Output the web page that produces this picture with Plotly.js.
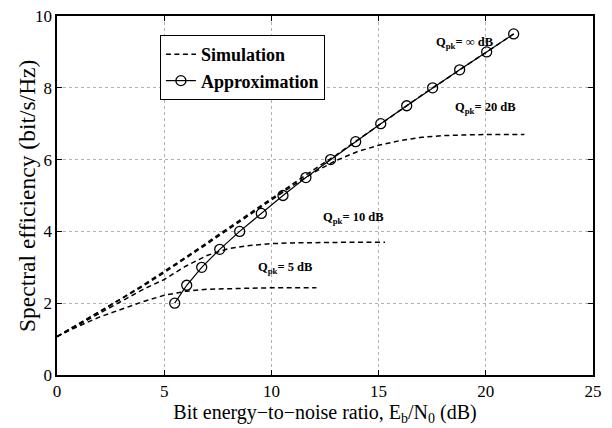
<!DOCTYPE html>
<html>
<head>
<meta charset="utf-8">
<script src="https://cdn.plot.ly/plotly-3.0.1.min.js"></script>
<style>html,body{margin:0;padding:0;background:#fff;}#chart{width:612px;height:428px;}</style>
</head>
<body>
<div id="chart"></div>
<script>
// Simulation curves (Eb/N0 in dB, spectral efficiency in bit/s/Hz)
const simInfX = [0,1,2,3,4,5,6,7,8,9,10,11,12,13,14,15,16,17,18,19,20,21,21.3];
const simInfY = [1.07,1.42,1.77,2.13,2.50,2.88,3.28,3.69,4.10,4.52,4.92,5.33,5.73,6.12,6.53,6.96,7.37,7.79,8.19,8.59,8.98,9.38,9.5];

const sim20X = [0,1,2,3,4,5,6,7,8,9,10,11,12,13,14,15,16,17,18,19,20,21,21.8];
const sim20Y = [1.07,1.42,1.76,2.11,2.47,2.85,3.24,3.65,4.06,4.47,4.88,5.28,5.65,5.97,6.22,6.40,6.53,6.62,6.67,6.69,6.70,6.70,6.70];

const sim10X = [0,1,2,3,4,5,6,7,8,9,10,11,12,13,14,15.3];
const sim10Y = [1.07,1.40,1.73,2.06,2.38,2.66,3.03,3.33,3.52,3.61,3.66,3.68,3.69,3.70,3.70,3.70];

const sim5X = [0,1,2,3,4,5,6,7,8,9,10,11,12.1];
const sim5Y = [1.07,1.36,1.62,1.84,2.04,2.22,2.33,2.39,2.41,2.42,2.43,2.43,2.43];

// Approximation
const approxX = [5.49,6.05,6.75,7.59,8.52,9.53,10.54,11.61,12.76,13.93,15.10,16.31,17.52,18.78,20.04,21.30];
const approxY = [2.0,2.5,3.0,3.5,4.0,4.5,5.0,5.5,6.0,6.5,7.0,7.5,8.0,8.5,9.0,9.5];

// Annotation labels
const labelText = ["Q<sub>pk</sub>= \u221e dB","Q<sub>pk</sub>= 20 dB","Q<sub>pk</sub>= 10 dB","Q<sub>pk</sub>= 5 dB"];
const labelX = [19.0, 20.0, 13.83, 10.62];
const labelY = [9.25, 7.44, 4.37, 2.97];

const xTicks = [0,5,10,15,20,25];
const yTicks = [0,2,4,6,8,10];

const xTitle = 'Bit energy\u2212to\u2212noise ratio, E<sub>b</sub>/N<sub>0</sub> (dB)';
const yTitle = 'Spectral efficiency (bit/s/Hz)';

const SERIF = '"Liberation Serif", "Times New Roman", serif';

const dashStyle = {color:'black', width:1.5, dash:'5px,3.5px'};
const traces = [
  {x:simInfX, y:simInfY, mode:'lines', line:dashStyle, name:'Simulation', showlegend:true},
  {x:sim20X, y:sim20Y, mode:'lines', line:dashStyle, showlegend:false},
  {x:sim10X, y:sim10Y, mode:'lines', line:dashStyle, showlegend:false},
  {x:sim5X, y:sim5Y, mode:'lines', line:dashStyle, showlegend:false},
  {x:approxX, y:approxY, mode:'lines+markers', name:'Approximation',
   line:{color:'black', width:1.2},
   marker:{symbol:'circle-open', size:10, color:'black', line:{width:1.3, color:'black'}}}
];

const annotations = labelText.map((t,i)=>({
  x:labelX[i], y:labelY[i], xref:'x', yref:'y', text:'<b>'+t+'</b>', showarrow:false,
  font:{family:SERIF, size:12.5, color:'black'}
}));
annotations.push({
  x:-0.057, y:0.5, xref:'paper', yref:'paper', xanchor:'center', yanchor:'middle',
  text:yTitle, textangle:-90, showarrow:false,
  font:{family:SERIF, size:23.5, color:'black'}
});

const axisCommon = {
  showline:true, linecolor:'black', linewidth:1.6, mirror:'ticks',
  ticks:'inside', ticklen:5, tickcolor:'black', tickwidth:1,
  showgrid:true, gridcolor:'#b0b0b0', griddash:'dot', gridwidth:1,
  zeroline:false,
  tickfont:{family:SERIF, size:17, color:'black'}
};

const layout = {
  width:612, height:428,
  margin:{l:57, r:19, t:16, b:53},
  paper_bgcolor:'white', plot_bgcolor:'white',
  font:{family:SERIF, color:'black'},
  xaxis:Object.assign({}, axisCommon, {
    range:[0,25], tickvals:xTicks, ticktext:xTicks.map(String),
    title:{text:xTitle, font:{family:SERIF, size:20, color:'black'}, standoff:0}
  }),
  yaxis:Object.assign({}, axisCommon, {
    range:[0,10], tickvals:yTicks, ticktext:yTicks.map(String)
  }),
  legend:{x:0.192, y:0.947, xanchor:'left', yanchor:'top',
    bgcolor:'white', bordercolor:'black', borderwidth:1,
    font:{family:SERIF, size:18, color:'black', weight:'bold'},
    tracegroupgap:0, itemwidth:30},
  annotations:annotations,
  showlegend:true
};

Plotly.newPlot('chart', traces, layout, {staticPlot:true, displayModeBar:false});
</script>
</body>
</html>
